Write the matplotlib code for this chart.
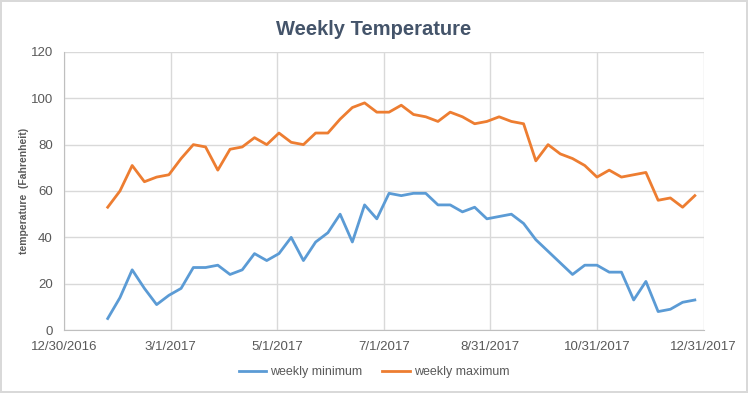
import matplotlib
matplotlib.use("Agg")
import matplotlib.pyplot as plt
import pandas as pd

# weekly readings, starting 1/24/2017
weeks = pd.date_range("2017-01-24", periods=49, freq="7D")

weekly_min = [5, 14, 26, 18, 11, 15, 18, 27, 27, 28, 24, 26, 33, 30, 33, 40, 30,
              38, 42, 50, 38, 54, 48, 59, 58, 59, 59, 54, 54, 51, 53, 48, 49, 50,
              46, 39, 34, 29, 24, 28, 28, 25, 25, 13, 21, 8, 9, 12, 13]
weekly_max = [53, 60, 71, 64, 66, 67, 74, 80, 79, 69, 78, 79, 83, 80, 85, 81, 80,
              85, 85, 91, 96, 98, 94, 94, 97, 93, 92, 90, 94, 92, 89, 90, 92, 90,
              89, 73, 80, 76, 74, 71, 66, 69, 66, 67, 68, 56, 57, 53, 58]

tick_dates = pd.to_datetime(["2016-12-30", "2017-03-01", "2017-05-01", "2017-07-01",
                             "2017-08-31", "2017-10-31", "2017-12-31"])
tick_labels = ["12/30/2016", "3/1/2017", "5/1/2017", "7/1/2017",
               "8/31/2017", "10/31/2017", "12/31/2017"]

plt.rcParams["font.family"] = ["Liberation Sans", "DejaVu Sans"]
grey = "#595959"

fig = plt.figure(figsize=(7.48, 3.93), dpi=100)
fig.patch.set_edgecolor("#D9D9D9")
fig.patch.set_linewidth(1.5)
ax = fig.add_axes([0.0856, 0.160, 0.855, 0.708])

ax.plot(weeks, weekly_min, color="#5B9BD5", lw=2, label="weekly minimum")
ax.plot(weeks, weekly_max, color="#ED7D31", lw=2, label="weekly maximum")

ax.set_xlim(tick_dates[0], tick_dates[-1])
ax.set_ylim(0, 120)
ax.set_yticks(range(0, 121, 20))
ax.set_xticks(tick_dates)
ax.set_xticklabels(tick_labels)

ax.grid(True, color="#D9D9D9", lw=1)
ax.set_axisbelow(True)
for s in ["top", "right"]:
    ax.spines[s].set_visible(False)
for s in ["left", "bottom"]:
    ax.spines[s].set_color("#BFBFBF")
ax.tick_params(length=0, colors=grey, labelsize=9.5, pad=8)
ax.tick_params(axis="y", pad=8)

ax.set_ylabel("temperature  (Fahrenheit)", fontsize=7.5, fontweight="bold",
              color=grey, labelpad=1)
fig.suptitle("Weekly Temperature", y=0.95, fontsize=14.5, fontweight="bold",
             color="#44546A")

fig.legend(loc="center", bbox_to_anchor=(0.5, 0.053), ncol=2, frameon=False,
           fontsize=9, labelcolor=grey, handlelength=2.2, handletextpad=0.3,
           columnspacing=1.6)

fig.savefig("out.png", dpi=100)
